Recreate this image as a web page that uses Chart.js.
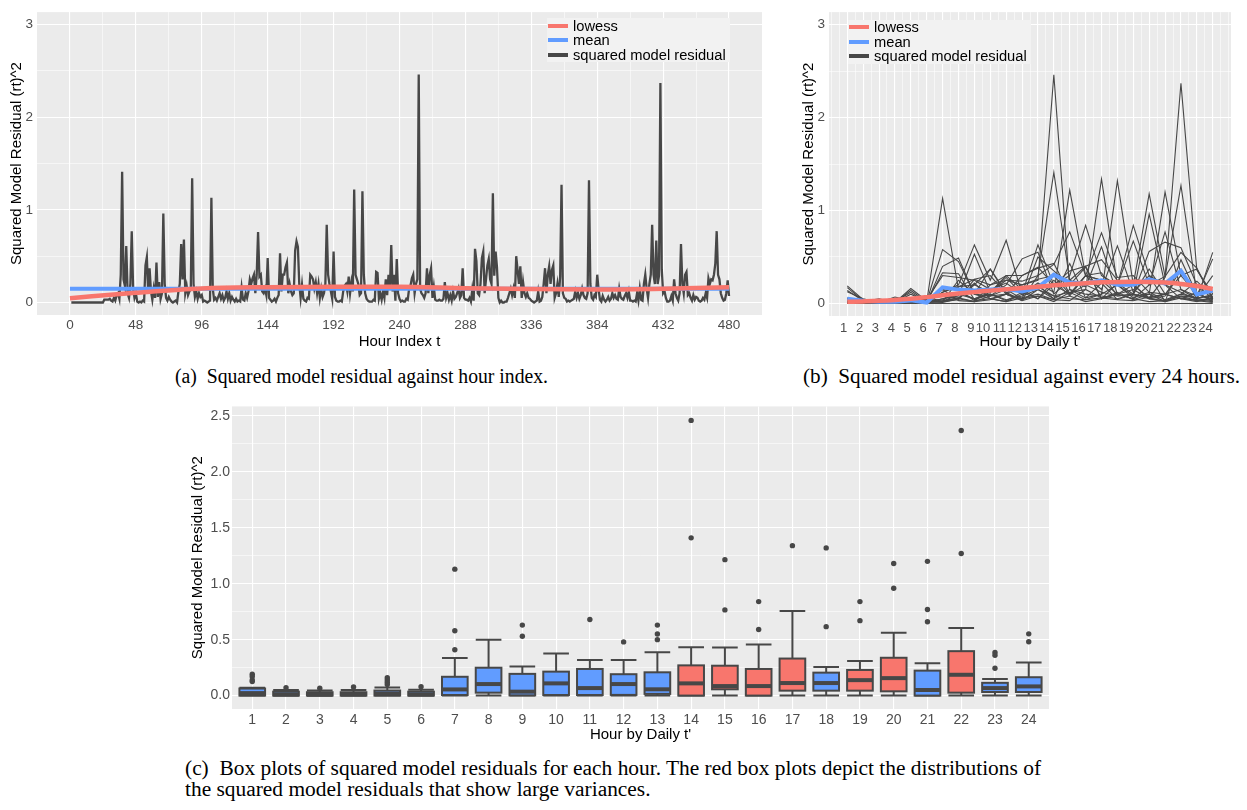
<!DOCTYPE html>
<html>
<head>
<meta charset="utf-8">
<script src="https://cdn.jsdelivr.net/npm/chart.js@4.4.1/dist/chart.umd.min.js"></script>
<style>
html,body{margin:0;padding:0;background:#ffffff;}
#page{position:relative;width:1247px;height:810px;overflow:hidden;font-family:"Liberation Sans",Arial,sans-serif;}
canvas{position:absolute;}
.legend{position:absolute;background:#F2F2F2;font-family:"Liberation Sans",Arial,sans-serif;font-size:14.7px;color:#000;}
.legend .row{position:absolute;left:0;height:14.5px;line-height:14.5px;white-space:nowrap;}
.legend .key{position:absolute;left:1px;top:5px;width:20px;height:4px;}
.legend .lab{position:absolute;left:26px;top:0;}
.cap{position:absolute;font-family:"Liberation Serif","Times New Roman",serif;font-size:20px;line-height:22px;white-space:nowrap;transform-origin:0 50%;color:#000;}
</style>
</head>
<body>
<div id="page">
  <canvas id="chartA" width="780" height="356" style="left:0;top:0"></canvas>
  <canvas id="chartB" width="467" height="356" style="left:780px;top:0"></canvas>
  <canvas id="chartC" width="880" height="360" style="left:180px;top:396px"></canvas>

  <div class="legend" style="left:547px;top:18px;width:183px;height:44px">
    <div class="row" style="top:0.5px"><span class="key" style="background:#F8766D"></span><span class="lab">lowess</span></div>
    <div class="row" style="top:15px"><span class="key" style="background:#619CFF"></span><span class="lab">mean</span></div>
    <div class="row" style="top:29.5px"><span class="key" style="background:#474747"></span><span class="lab">squared model residual</span></div>
  </div>
  <div class="legend" style="left:848px;top:20px;width:183px;height:44px">
    <div class="row" style="top:0"><span class="key" style="background:#F8766D"></span><span class="lab">lowess</span></div>
    <div class="row" style="top:14.5px"><span class="key" style="background:#619CFF"></span><span class="lab">mean</span></div>
    <div class="row" style="top:29px"><span class="key" style="background:#474747"></span><span class="lab">squared model residual</span></div>
  </div>

  <div class="cap" data-w="373" style="left:175px;top:365px">(a)&nbsp; Squared model residual against hour index.</div>
  <div class="cap" data-w="437" style="left:803px;top:365px">(b)&nbsp; Squared model residual against every 24 hours.</div>
  <div class="cap" id="capC1" data-w="856" style="left:185px;top:757px">(c)&nbsp; Box plots of squared model residuals for each hour. The red box plots depict the distributions of</div>
  <div class="cap" id="capC2" data-ref="capC1" style="left:185px;top:778px">the squared model residuals that show large variances.</div>
</div>

<script>
// ---------------- DATA ----------------
// squared model residual, one array per day, hours 1..24
const day01 = [0,0,0,0,0,0,0,0,0,0,0,0,0,0,0,0,0,0,0,0,0,0,0,0];
const day02 = [0.03,0.03,0.03,0.03,0.04,0.02,0.01,0.05,0.02,0.08,0.10,0.04,0.30,1.41,0.25,0.18,0.61,0.10,0.05,0.20,0.77,0.15,0.05,0.10];
const day03 = [0.01,0,0.01,0,0.02,0.01,0.40,0.49,0.10,0.37,0.12,0.03,0.15,0.05,0.43,0.06,0.22,0.04,0.10,0.96,0.20,0.05,0.02,0.06];
const day04 = [0.03,0.01,0,0.01,0.02,0,0.12,0.20,0.63,0.25,0.68,0.10,0.18,0.08,0.12,0.15,1.34,0.20,0.06,0.12,0.04,0.10,0.06,0.08];
const day05 = [0.01,0.02,0.01,0,0.01,0.02,1.13,0.15,0.03,0.05,0.02,0.06,0.10,0.04,0.08,0.02,0.05,0.12,0.04,0.10,0.02,0.06,0.03,0.01];
const day06 = [0.04,0.01,0.02,0.01,0.16,0.03,0.02,0.10,0.05,0.12,0.25,0.20,0.26,0.30,0.10,0.30,0.76,0.28,0.30,0.12,0.10,0.15,0.08,0.48];
const day07 = [0.05,0.03,0.01,0.02,0.04,0.01,0.05,0.08,0.53,0.12,0.30,0.30,0.38,0.43,0.10,0.20,0.12,0.08,0.10,0.56,0.66,0.60,0.20,0.05];
const day08 = [0.19,0.04,0.02,0.01,0.05,0.04,0.30,0.28,0.25,0.15,0.22,0.10,0.20,0.05,0.15,0.06,0.10,0.20,0.84,0.30,0.20,0.12,0.04,0.55];
const day09 = [0.06,0.02,0.01,0.01,0.02,0.01,0.12,0.18,0.20,0.12,0.28,0.10,0.22,0.12,1.22,0.30,0.25,0.20,0.08,0.10,1.20,0.30,0.10,0.04];
const day10 = [0.02,0.01,0.01,0.01,0.03,0.02,0.33,0.32,0.04,0.10,0.03,0.12,0.05,0.25,0.08,0.30,0.15,0.62,0.12,0.30,0.02,0.47,0.10,0.04];
const day11 = [0.01,0.02,0.01,0.01,0.04,0.03,0.15,0.18,0.26,0.30,0.10,0.20,0.25,2.46,0.15,0.10,0.08,0.05,0.10,0.37,0.10,0.30,0.37,0.05];
const day12 = [0.17,0.03,0.02,0.02,0.03,0.02,0.02,0.04,0.22,0.05,0.10,0.03,0.08,0.02,0.12,0.04,0.06,0.10,0.15,0.05,0.08,0.37,0.05,0.03];
const day13 = [0.03,0.02,0.05,0.01,0.14,0.02,0.58,0.45,0.10,0.08,0.20,0.48,0.55,0.10,0.25,0.40,0.47,0.25,0.20,1.18,0.29,0.55,0.38,0.05];
const day14 = [0,0.02,0,0,0.01,0.01,0.05,0.10,0.15,0.08,0.15,0.05,0.50,0.35,0.20,0.39,0.05,0.22,0.10,0.06,0.10,0.05,0.04,0.02];
const day15 = [0.01,0,0.01,0.02,0.12,0.01,0.02,0.06,0.20,0.37,0.10,0.30,0.39,0.20,0.35,0.40,0.05,0.10,0.20,0.06,0.28,1.27,0.10,0.05];
const day16 = [0.04,0.01,0.02,0.01,0.02,0.03,0.04,0.12,0.05,0.10,0.04,0.08,0.15,0.08,0.05,0.04,0.10,1.32,0.20,0.05,0.03,0.08,0.06,0.30];
const day17 = [0.14,0.03,0.01,0.07,0.03,0.01,0.03,0.06,0.02,0.04,0.10,0.05,0.08,0.04,0.03,0.15,0.06,0.04,0.03,0.07,0.10,0.05,0.12,0.02];
const day18 = [0.02,0.01,0.02,0.01,0.10,0.02,0.15,0.03,0.02,0.20,0.30,0.15,0.05,0.20,0.30,0.84,0.30,0.20,0.67,0.20,0.29,2.37,0.36,0.10];
const day19 = [0.125,0.05,0.01,0.01,0.02,0.07,0.02,0.25,0.10,0.05,0.02,0.10,0.63,0.20,0.10,0.30,0.33,0.08,0.10,0.05,0.02,0.08,0.03,0.06];
const day20 = [0.05,0.02,0.01,0.02,0.05,0.03,0.10,0.05,0.26,0.20,0.25,0.24,0.30,0.42,0.77,0.30,0.25,0.10,0.05,0.02,0.03,0.10,0.24,0.07];

// panel (a) summary lines
const overallMean = 0.149;
const lowessHourIndex = [0,48,96,144,192,240,288,336,384,432,480];
const lowessHourValue = [0.047,0.105,0.152,0.165,0.170,0.170,0.155,0.145,0.140,0.148,0.165];

// panel (b) summary lines (per hour of day)
const dailyHours = [1,2,3,4,5,6,7,8,9,10,11,12,13,14,15,16,17,18,19,20,21,22,23,24];
const hourlyMean = [0.052,0.028,0.017,0.017,0.033,0.010,0.173,0.149,0.139,0.150,0.155,0.130,0.170,0.310,0.225,0.215,0.250,0.200,0.200,0.260,0.215,0.350,0.097,0.139];
const hourlyLowess = [0.017,0.022,0.028,0.037,0.050,0.068,0.088,0.106,0.122,0.138,0.152,0.166,0.180,0.195,0.207,0.218,0.227,0.232,0.234,0.232,0.225,0.210,0.188,0.156];

// panel (c) box plot statistics per hour
const boxQ1      = [0,0,0,0,0,0,0.005,0.026,0.002,0.005,0.005,0.006,0.015,0.000,0.056,0.000,0.044,0.044,0.044,0.038,0.000,0.026,0.032,0.032];
const boxMedian  = [0.022,0.010,0.008,0.010,0.018,0.010,0.055,0.103,0.035,0.109,0.067,0.103,0.056,0.109,0.085,0.085,0.112,0.112,0.138,0.156,0.050,0.186,0.067,0.082];
const boxQ3      = [0.063,0.035,0.030,0.030,0.045,0.035,0.168,0.249,0.194,0.214,0.238,0.191,0.208,0.270,0.267,0.238,0.331,0.205,0.229,0.338,0.223,0.397,0.114,0.164];
const whiskerLow = [0,0,0,0,0,0,0,0,0,0,0,0,0,0,0,0,0,0,0,0,0,0,0,0];
const whiskerHigh= [0.070,0.050,0.045,0.050,0.073,0.053,0.337,0.499,0.261,0.376,0.317,0.317,0.387,0.431,0.430,0.457,0.757,0.255,0.308,0.561,0.288,0.605,0.149,0.296];
const boxOutliers = [[0.19,0.17,0.14,0.125],[0.07],[0.065],[0.077],[0.16,0.14,0.12,0.10],[0.08],[1.13,0.58,0.41],[],[0.63,0.53],[],[0.68],[0.48],[0.63,0.55,0.50],[2.46,1.41],[1.215,0.766],[0.84,0.59],[1.34],[1.32,0.616],[0.84,0.67],[1.18,0.96],[1.20,0.77,0.66],[2.37,1.27],[0.385,0.361,0.244],[0.552,0.481]];
const highVariance = [0,0,0,0,0,0,0,0,0,0,0,0,0,1,1,1,1,0,1,1,0,1,0,0];

// axis ticks
const hourIndexMajor = [0,48,96,144,192,240,288,336,384,432,480];
const hourIndexMinor = [24,72,120,168,216,264,312,360,408,456];
const residualMajor = [0,1,2,3];
const residualMinor = [0.5,1.5,2.5];
const dailyMinor = [0,0.5,1.5,2.5,3.5,4.5,5.5,6.5,7.5,8.5,9.5,10.5,11.5,12.5,13.5,14.5,15.5,16.5,17.5,18.5,19.5,20.5,21.5,22.5,23.5,24.5,25];
const boxMajor = [0,0.5,1,1.5,2,2.5];
const boxMinor = [0.25,0.75,1.25,1.75,2.25];

// ---------------- STYLE / HELPERS ----------------
const PANEL = '#EBEBEB', TEXT = '#4D4D4D', LINE = '#474747', RED = '#F8766D', BLUE = '#619CFF';
Chart.defaults.font.family = '"Liberation Sans", Arial, sans-serif';
Chart.defaults.animation = false;

const panelBg = {id:'panelBg', beforeDraw(c){ const a=c.chartArea, x=c.ctx; x.save(); x.fillStyle=PANEL; x.fillRect(a.left,a.top,a.right-a.left,a.bottom-a.top); x.restore(); }};

function isIn(list, v){ return list.some(u => Math.abs(u - v) < 1e-9); }
function gridAxis(o){
  const all = o.majors.concat(o.minors).sort((a,b)=>a-b);
  return {
    type:'linear', position:o.position, min:o.min, max:o.max, offset:false,
    afterBuildTicks: s => { s.ticks = all.map(v => ({value:v})); },
    afterFit: s => { if (o.position === 'left') s.width = o.size; else s.height = o.size; },
    grid:{ color:'#FFFFFF', lineWidth: c => (c.tick && isIn(o.majors, c.tick.value)) ? 1.1 : 0.55, drawTicks:false, offset:false },
    border:{ display:false },
    ticks:{ autoSkip:false, maxRotation:0, minRotation:0, padding:o.pad, color:TEXT, font:{size:o.font}, align:o.align || 'center',
            callback: v => isIn(o.majors, v) ? o.fmt(v) : '' },
    title:{ display:true, text:o.title, color:'#000000', font:{size:15}, padding:o.titlePad }
  };
}
const commonOpts = { responsive:false, maintainAspectRatio:false, devicePixelRatio:1, animation:false,
  plugins:{ legend:{display:false}, tooltip:{enabled:false} } };

const days = [day01,day02,day03,day04,day05,day06,day07,day08,day09,day10,day11,day12,day13,day14,day15,day16,day17,day18,day19,day20];

// ---------------- PANEL (a) ----------------
const residualSeries = [];
days.forEach((row, d) => row.forEach((v, h) => residualSeries.push({x: d*24 + dailyHours[h], y: v})));

new Chart(document.getElementById('chartA'), {
  type:'line',
  data:{ datasets:[
    { data: lowessHourIndex.map((t,i)=>({x:t, y:lowessHourValue[i]})), borderColor:RED, borderWidth:4.5, pointRadius:0, cubicInterpolationMode:'monotone', order:0 },
    { data: [{x:lowessHourIndex[0], y:overallMean},{x:lowessHourIndex[lowessHourIndex.length-1], y:overallMean}], borderColor:BLUE, borderWidth:4, pointRadius:0, order:1 },
    { data: residualSeries, borderColor:LINE, borderWidth:2.3, pointRadius:0, tension:0, order:2 }
  ]},
  options: Object.assign({}, commonOpts, {
    parsing:false,
    layout:{ padding:{ top:2, right:18, left:0, bottom:0 } },
    scales:{
      x: gridAxis({position:'bottom', min:-24, max:504, majors:hourIndexMajor, minors:hourIndexMinor, fmt:v=>String(v), size:41, pad:2, font:13.5, title:'Hour Index t', titlePad:{top:0,bottom:5}}),
      y: gridAxis({position:'left', min:-0.135, max:3.135, majors:residualMajor, minors:residualMinor, fmt:v=>String(v), size:37, pad:4, font:13.5, title:'Squared Model Residual (rt)^2', titlePad:{top:8,bottom:0}})
    }
  }),
  plugins:[panelBg]
});

// ---------------- PANEL (b) ----------------
const dayDatasets = days.map((row) => ({ data: row.map((v,h)=>({x:dailyHours[h], y:v})), borderColor:LINE, borderWidth:1.1, pointRadius:0, tension:0, order:2 }));
new Chart(document.getElementById('chartB'), {
  type:'line',
  data:{ datasets:[
    { data: dailyHours.map((h,i)=>({x:h, y:hourlyLowess[i]})), borderColor:RED, borderWidth:4.5, pointRadius:0, cubicInterpolationMode:'monotone', order:0 },
    { data: dailyHours.map((h,i)=>({x:h, y:hourlyMean[i]})), borderColor:BLUE, borderWidth:4, pointRadius:0, tension:0, order:1 }
  ].concat(dayDatasets)},
  options: Object.assign({}, commonOpts, {
    parsing:false,
    layout:{ padding:{ top:2, right:16, left:0, bottom:0 } },
    scales:{
      x: gridAxis({position:'bottom', min:-0.15, max:25.15, majors:dailyHours, minors:dailyMinor, fmt:v=>String(v), size:40, pad:5, font:13, align:'end', title:"Hour by Daily t'", titlePad:{top:0,bottom:5}}),
      y: gridAxis({position:'left', min:-0.135, max:3.135, majors:residualMajor, minors:residualMinor, fmt:v=>String(v), size:49, pad:4, font:13.5, title:'Squared Model Residual (rt)^2', titlePad:{top:20,bottom:0}})
    }
  }),
  plugins:[panelBg]
});

// ---------------- PANEL (c) ----------------
const boxParts = {
  id:'boxParts',
  beforeDatasetsDraw(chart){
    const ctx = chart.ctx, y = chart.scales.y, meta = chart.getDatasetMeta(0);
    ctx.save(); ctx.strokeStyle = LINE; ctx.lineWidth = 2; ctx.lineCap = 'butt';
    dailyHours.forEach((h,i) => {
      const bar = meta.data[i]; const cx = bar.x, hw = bar.width/2;
      const yl = y.getPixelForValue(whiskerLow[i]), yh = y.getPixelForValue(whiskerHigh[i]);
      ctx.beginPath();
      ctx.moveTo(cx, yl); ctx.lineTo(cx, yh);
      ctx.moveTo(cx-hw, yl); ctx.lineTo(cx+hw, yl);
      ctx.moveTo(cx-hw, yh); ctx.lineTo(cx+hw, yh);
      ctx.stroke();
    });
    ctx.restore();
  },
  afterDatasetsDraw(chart){
    const ctx = chart.ctx, y = chart.scales.y, meta = chart.getDatasetMeta(0);
    ctx.save(); ctx.strokeStyle = LINE;
    dailyHours.forEach((h,i) => {
      const bar = meta.data[i]; const cx = bar.x, hw = bar.width/2;
      const y1 = y.getPixelForValue(boxQ1[i]), y3 = y.getPixelForValue(boxQ3[i]), ym = y.getPixelForValue(boxMedian[i]);
      ctx.lineWidth = 2;
      ctx.strokeRect(cx-hw, y3, 2*hw, y1-y3);
      ctx.lineWidth = 4;
      ctx.beginPath(); ctx.moveTo(cx-hw, ym); ctx.lineTo(cx+hw, ym); ctx.stroke();
    });
    ctx.restore();
  }
};

const outlierPoints = [];
boxOutliers.forEach((list,i) => list.forEach(v => outlierPoints.push({x: dailyHours[i], y: v})));

new Chart(document.getElementById('chartC'), {
  type:'bar',
  data:{ datasets:[
    { type:'bar', data: dailyHours.map((h,i)=>({x:h, y:[boxQ1[i], boxQ3[i]]})),
      backgroundColor: highVariance.map(f => f ? RED : BLUE), borderWidth:0, barPercentage:0.76, categoryPercentage:1.0, order:1 },
    { type:'scatter', data: outlierPoints, pointRadius:2.7, pointBackgroundColor:LINE, pointBorderWidth:0, showLine:false, order:0 }
  ]},
  options: Object.assign({}, commonOpts, {
    layout:{ padding:{ top:6, right:11, left:0, bottom:0 } },
    scales:{
      x: gridAxis({position:'bottom', min:0.4, max:24.6, majors:dailyHours, minors:[], fmt:v=>String(v), size:47, pad:2.6, font:14, title:"Hour by Daily t'", titlePad:{top:0,bottom:12}}),
      y: gridAxis({position:'left', min:-0.12, max:2.585, majors:boxMajor, minors:boxMinor, fmt:v=>v.toFixed(1), size:52, pad:2, font:14, title:'Squared Model Residual (rt)^2', titlePad:{top:9.3,bottom:0}})
    }
  }),
  plugins:[panelBg, boxParts]
});

// fit caption widths to the figure (lines without a target reuse the scale of their reference line)
const capScale = {};
document.querySelectorAll('.cap[data-w]').forEach(el => {
  const w = el.getBoundingClientRect().width;
  const s = w > 0 ? parseFloat(el.dataset.w) / w : 1;
  capScale[el.id || ''] = s;
  el.style.transform = 'scaleX(' + s.toFixed(4) + ')';
});
document.querySelectorAll('.cap[data-ref]').forEach(el => {
  const s = capScale[el.dataset.ref] || 1;
  el.style.transform = 'scaleX(' + s.toFixed(4) + ')';
});
</script>
</body>
</html>
